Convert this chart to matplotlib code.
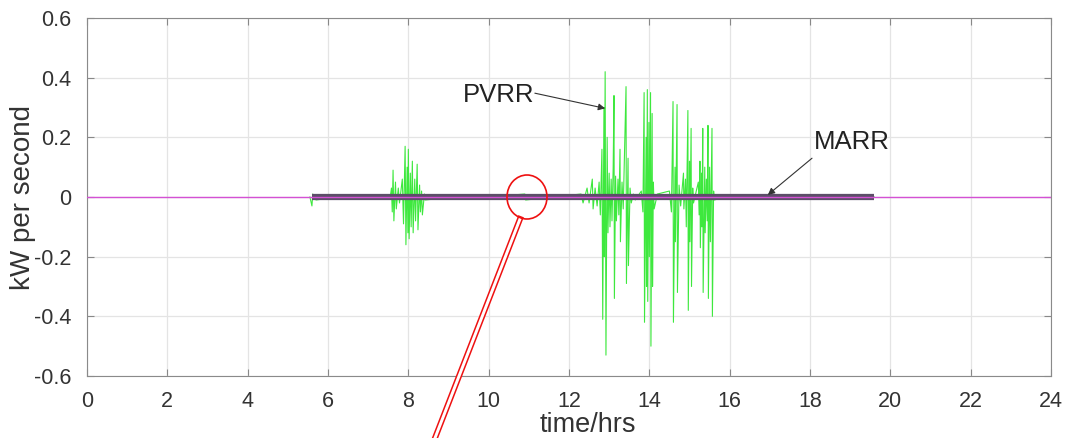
import matplotlib
matplotlib.use("Agg")
import matplotlib.pyplot as plt
from matplotlib.patches import Ellipse
from matplotlib.lines import Line2D

plt.rcParams['font.family'] = ['Liberation Sans', 'DejaVu Sans']

# PVRR ramp-rate trace (hours, kW/s)
pv_t = [5.55, 5.6, 5.62, 5.7, 6.5, 7.55,
        7.58, 7.6, 7.62, 7.64, 7.68, 7.7, 7.75, 7.78, 7.85, 7.88, 7.92, 7.94, 7.97, 7.99,
        8.0, 8.02, 8.05, 8.07, 8.1, 8.12, 8.16, 8.18, 8.22, 8.24, 8.28, 8.3, 8.33, 8.35, 8.4, 8.42,
        9.5, 9.52, 10.9, 10.92, 12.3, 12.35, 12.45, 12.5, 12.58, 12.6, 12.65, 12.7, 12.75, 12.78,
        12.82, 12.84, 12.87, 12.88, 12.9, 12.92, 12.95, 12.97, 13.0, 13.02, 13.05, 13.07, 13.1,
        13.12, 13.13, 13.16, 13.18, 13.22, 13.24, 13.27, 13.28, 13.32, 13.35, 13.42, 13.43,
        13.47, 13.48, 13.52, 13.55, 13.6, 13.65,
        13.8, 13.84, 13.87, 13.88, 13.92, 13.93, 13.95, 13.96, 13.99, 14.0, 14.03, 14.04,
        14.07, 14.08, 14.1, 14.12, 14.2,
        14.5, 14.55, 14.59, 14.6, 14.64, 14.65, 14.69, 14.7, 14.74, 14.78,
        14.85, 14.86, 14.9, 14.92, 14.96, 14.97, 15.0, 15.01, 15.04, 15.05, 15.08, 15.1,
        15.22, 15.24, 15.26, 15.27, 15.3, 15.31, 15.33, 15.34, 15.38, 15.39, 15.42, 15.44,
        15.46, 15.47, 15.5, 15.52, 15.56, 15.57, 15.6, 15.62, 16.0, 19.6]
pv_v = [0.0, -0.03, 0.01, -0.01, 0.005, 0.0,
        0.03, -0.05, 0.09, -0.08, 0.05, -0.04, 0.03, -0.02, 0.06, -0.09, 0.17, -0.16, 0.10, -0.12,
        0.16, -0.14, 0.08, -0.10, 0.12, -0.12, 0.06, -0.08, 0.11, -0.11, 0.04, -0.05, 0.02, -0.06, 0.01, -0.01,
        0.005, -0.005, 0.01, -0.01, 0.01, -0.02, 0.03, -0.02, 0.06, -0.04, 0.03, -0.03, 0.05, -0.06,
        0.16, -0.41, 0.30, -0.20, 0.42, -0.53, 0.20, -0.12, 0.08, -0.10, 0.06, -0.08, 0.10,
        0.34, -0.34, 0.07, -0.08, 0.06, -0.06, 0.16, -0.15, 0.05, -0.04, 0.37, -0.29,
        0.13, -0.23, 0.03, -0.02, 0.01, -0.01,
        0.02, -0.05, 0.35, -0.42, 0.20, -0.30, 0.36, -0.35, 0.25, -0.20, 0.35, -0.50,
        0.28, -0.30, 0.05, -0.04, 0.01,
        0.02, -0.05, 0.32, -0.42, 0.10, -0.15, 0.31, -0.32, 0.04, -0.03,
        0.08, -0.04, 0.06, -0.10, 0.29, -0.38, 0.12, -0.15, 0.23, -0.30, 0.03, -0.02,
        0.05, -0.06, 0.12, -0.17, 0.08, -0.10, 0.23, -0.32, 0.10, -0.12, 0.06, -0.08,
        0.24, -0.34, 0.10, -0.15, 0.23, -0.40, 0.02, -0.01, 0.005, 0.0]

# MARR band (active between sunrise and sunset) and zero reference line
marr_t = [5.6, 19.6]
marr_v = [0.0, 0.0]
ref_t = [0, 24]
ref_v = [0.0, 0.0]

x_ticks = list(range(0, 25, 2))
y_ticks = [-0.6, -0.4, -0.2, 0, 0.2, 0.4, 0.6]
y_labels = ['-0.6', '-0.4', '-0.2', '0', '0.2', '0.4', '0.6']

W, H = 1076, 438
fig = plt.figure(figsize=(W / 100, H / 100), dpi=100)
ax = fig.add_axes([87 / W, 62 / H, 964 / W, 358 / H])

ax.plot(pv_t, pv_v, color='#3ee83e', lw=0.8, zorder=2)
ax.plot(marr_t, marr_v, color='#5c4d68', lw=4.5, solid_capstyle='butt', zorder=3)
ax.plot(ref_t, ref_v, color='#d451d4', lw=1.0, zorder=4)

ax.set_xlim(0, 24)
ax.set_ylim(-0.6, 0.6)
ax.set_xticks(x_ticks)
ax.set_yticks(y_ticks)
ax.set_yticklabels(y_labels)
ax.grid(True, color='#e4e4e4', lw=0.9)
ax.set_axisbelow(True)
ax.tick_params(direction='in', length=5, color='#888888', labelsize=15.5,
               labelcolor='#333333', top=True, right=True)
ax.tick_params(axis='x', pad=11)
ax.tick_params(axis='y', pad=11)
for s in ax.spines.values():
    s.set_color('#8a8a8a')

ax.set_xlabel('time/hrs', fontsize=19.5, color='#333333')
ax.xaxis.set_label_coords(0.52, -0.137)
ax.xaxis.label.set_va('center')
ax.set_ylabel('kW per second', fontsize=20, color='#333333')
ax.yaxis.set_label_coords(-0.066, 0.5)
ax.yaxis.label.set_va('center')

# text labels with separate arrows
ax.text(10.26, 0.341, 'PVRR', fontsize=18.5, color='#222222', ha='center', va='center')
ax.annotate('', xy=(12.9, 0.297), xytext=(11.15, 0.348),
            arrowprops=dict(arrowstyle='-|>', color='#333333', lw=0.8,
                            shrinkA=0, shrinkB=0, mutation_scale=10))
ax.text(19.04, 0.184, 'MARR', fontsize=18.5, color='#222222', ha='center', va='center')
ax.annotate('', xy=(16.95, 0.007), xytext=(18.05, 0.13),
            arrowprops=dict(arrowstyle='-|>', color='#333333', lw=0.8,
                            shrinkA=0, shrinkB=0, mutation_scale=10))

# red callout overlay (figure pixels)
fig.patches.append(Ellipse((527 / W, 1 - 197 / H), 40 / W, 44 / H, transform=fig.transFigure,
                           fill=False, ec='#ee1111', lw=1.2, zorder=10))
for lw, col in [(4.3, '#ee1111'), (2.1, 'white')]:
    fig.lines.append(Line2D([520 / W, 435 / W], [1 - 219 / H, 1 - 438 / H],
                            transform=fig.transFigure, color=col, lw=lw, zorder=9))

fig.savefig('out.png', dpi=100)
